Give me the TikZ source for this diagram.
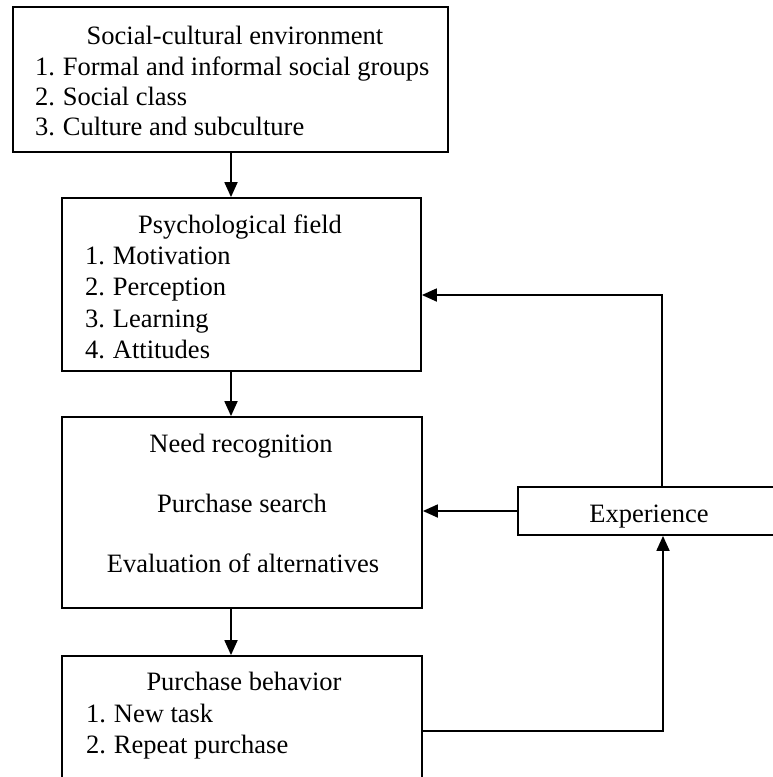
\documentclass[tikz,border=0pt]{standalone}
\usepackage{fontspec}
\setmainfont{Liberation Serif}
\usetikzlibrary{arrows.meta}
\begin{document}
\begin{tikzpicture}[x=1pt,y=-1pt,
  box/.style={draw,line width=1.8pt,inner sep=0pt,minimum width=#1},
  txt/.style={inner sep=0pt,font=\fontsize{26.5}{30}\selectfont},
  ctitle/.style={txt,anchor=base},
  item/.style={txt,anchor=base west},
  conn/.style={line width=1.8pt,-{Triangle[length=15pt,width=13pt]}},
  plain/.style={line width=1.8pt}]
\useasboundingbox (0,0) rectangle (772,777);
% boxes
\node[box=435pt,minimum height=145pt] (b1) at (230.5,79.5) {};
\node[box=359pt,minimum height=173pt] (b2) at (241.5,284.5) {};
\node[box=360pt,minimum height=191pt] (b3) at (242,512.5) {};
\node[box=360pt,minimum height=144pt] (b4) at (242,728) {};
\node[box=282pt,minimum height=48pt] (exp) at (659,511) {};
% texts box 1
\node[ctitle] (t11) at (235,44) {Social-cultural environment};
\node[item] (t12) at (35,75) {1.\kern-1pt{} Formal and informal social groups};
\node[item] (t13) at (35,105) {2.\kern-1pt{} Social class};
\node[item] (t14) at (35,135) {3.\kern-1pt{} Culture and subculture};
% texts box 2
\node[ctitle] (t21) at (240,233) {Psychological field};
\node[item] (t22) at (85,264) {1.\kern-1pt{} Motivation};
\node[item] (t23) at (85,295) {2.\kern-1pt{} Perception};
\node[item] (t24) at (85,327) {3.\kern-1pt{} Learning};
\node[item] (t25) at (85,358) {4.\kern-1pt{} Attitudes};
% texts box 3
\node[ctitle] (t31) at (241,452) {Need recognition};
\node[ctitle] (t32) at (242,512) {Purchase search};
\node[ctitle] (t33) at (243,572) {Evaluation of alternatives};
% texts box 4
\node[ctitle] (t41) at (244,690) {Purchase behavior};
\node[item] (t42) at (86,722) {1.\kern-1pt{} New task};
\node[item] (t43) at (86,753) {2.\kern-1pt{} Repeat purchase};
% experience
\node[ctitle] (te) at (649,522) {Experience};
% connectors
\coordinate (ax) at (231,0);
\coordinate (c1) at (662,295);
\coordinate (c2) at (663,731);
\draw[conn] (b1.south -| ax) -- (b2.north -| ax);
\draw[conn] (b2.south -| ax) -- (b3.north -| ax);
\draw[conn] (b3.south -| ax) -- (b4.north -| ax);
\draw[conn] (exp.west) -- (exp.west -| b3.east);
\draw[conn] (exp.north -| c1) -- (c1) -- (c1 -| b2.east);
\draw[conn] (c2 -| b4.east) -- (c2) -- (c2 |- exp.south);
\end{tikzpicture}
\end{document}
